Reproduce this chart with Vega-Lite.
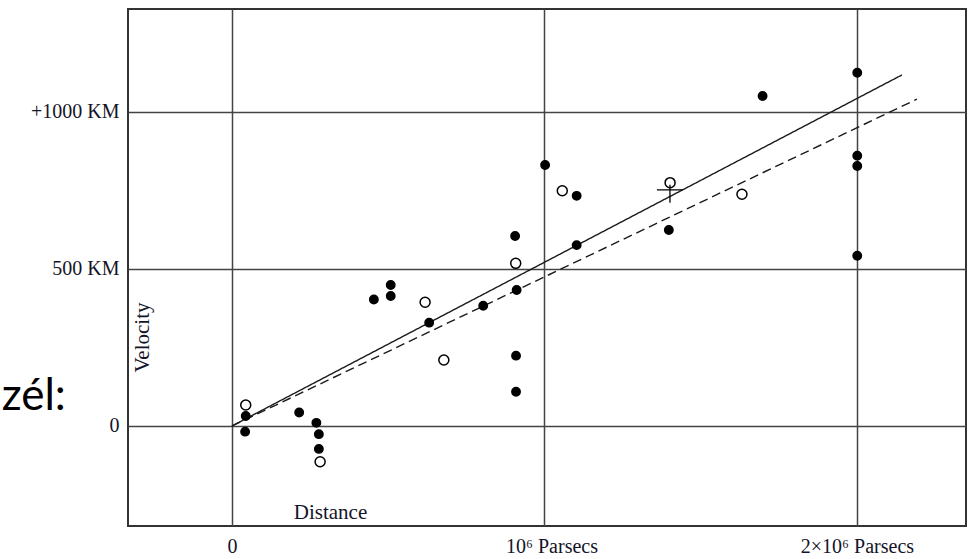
{
  "$schema": "https://vega.github.io/schema/vega-lite/v6.json",
  "width": 838,
  "height": 517,
  "autosize": {"type": "none"},
  "padding": {"left": 128, "top": 9, "right": 3, "bottom": 33},
  "background": "white",
  "config": {
    "view": {"stroke": "#333333", "strokeWidth": 2},
    "axis": {
      "labelFont": "Liberation Serif",
      "titleFont": "Liberation Serif",
      "labelColor": "#141428",
      "titleColor": "#141428",
      "titleFontWeight": "normal",
      "labelFontSize": 20,
      "titleFontSize": 21,
      "grid": true,
      "gridColor": "#444444",
      "gridWidth": 1.5,
      "gridOpacity": 1,
      "domain": false,
      "ticks": false,
      "labelOverlap": false,
      "labelBound": false,
      "labelFlush": false
    }
  },
  "datasets": {
    "nebulae": [
      {"d": 0.044, "v": 32, "kind": "individual"},
      {"d": 0.042, "v": -18, "kind": "individual"},
      {"d": 0.215, "v": 43, "kind": "individual"},
      {"d": 0.270, "v": 10, "kind": "individual"},
      {"d": 0.278, "v": -26, "kind": "individual"},
      {"d": 0.278, "v": -73, "kind": "individual"},
      {"d": 0.454, "v": 403, "kind": "individual"},
      {"d": 0.508, "v": 449, "kind": "individual"},
      {"d": 0.508, "v": 414, "kind": "individual"},
      {"d": 0.631, "v": 329, "kind": "individual"},
      {"d": 0.804, "v": 383, "kind": "individual"},
      {"d": 0.911, "v": 433, "kind": "individual"},
      {"d": 0.909, "v": 224, "kind": "individual"},
      {"d": 0.909, "v": 109, "kind": "individual"},
      {"d": 0.906, "v": 605, "kind": "individual"},
      {"d": 1.002, "v": 831, "kind": "individual"},
      {"d": 1.103, "v": 733, "kind": "individual"},
      {"d": 1.103, "v": 576, "kind": "individual"},
      {"d": 1.398, "v": 624, "kind": "individual"},
      {"d": 1.698, "v": 1051, "kind": "individual"},
      {"d": 2.001, "v": 1125, "kind": "individual"},
      {"d": 2.001, "v": 861, "kind": "individual"},
      {"d": 2.001, "v": 828, "kind": "individual"},
      {"d": 2.001, "v": 542, "kind": "individual"},
      {"d": 0.044, "v": 67, "kind": "group"},
      {"d": 0.282, "v": -114, "kind": "group"},
      {"d": 0.618, "v": 394, "kind": "group"},
      {"d": 0.678, "v": 210, "kind": "group"},
      {"d": 0.908, "v": 518, "kind": "group"},
      {"d": 1.057, "v": 749, "kind": "group"},
      {"d": 1.402, "v": 775, "kind": "group"},
      {"d": 1.632, "v": 738, "kind": "group"}
    ],
    "fits": [
      {"d": 0, "v": 0, "fit": "individual"},
      {"d": 2.144, "v": 1118, "fit": "individual"},
      {"d": 0, "v": 0, "fit": "group"},
      {"d": 2.192, "v": 1041, "fit": "group"}
    ],
    "mean": [
      {"d": 1.4016, "v": 752}
    ],
    "slide": [
      {"t": "zél:"}
    ]
  },
  "layer": [
    {
      "data": {"name": "fits"},
      "mark": {"type": "line", "color": "#1a1a1a", "strokeWidth": 1.4},
      "encoding": {
        "x": {
          "field": "d",
          "type": "quantitative",
          "scale": {"domain": [-0.3328, 2.349], "nice": false, "zero": false},
          "axis": {
            "values": [0, 1, 2],
            "labelExpr": "datum.value == 0 ? '0' : datum.value == 1 ? '10⁶ Parsecs' : '2×10⁶ Parsecs'",
            "labelPadding": 10,
            "labelOffset": {"condition": {"test": "datum.value == 1", "value": 7}, "value": 0},
            "title": "Distance",
            "titleX": 202,
            "titleY": -14,
            "titleBaseline": "middle",
            "titleAlign": "center"
          }
        },
        "y": {
          "field": "v",
          "type": "quantitative",
          "scale": {"domain": [-318.5, 1328], "nice": false, "zero": false},
          "axis": {
            "values": [0, 500, 1000],
            "labelExpr": "datum.value == 1000 ? '+1000 KM' : datum.value == 500 ? '500 KM' : '0'",
            "labelPadding": 9,
            "title": "Velocity",
            "titleX": 14,
            "titleY": 328,
            "titleAngle": -90,
            "titleBaseline": "middle",
            "titleAlign": "center"
          }
        },
        "detail": {"field": "fit"},
        "strokeDash": {
          "field": "fit",
          "type": "nominal",
          "scale": {"domain": ["individual", "group"], "range": [[1, 0], [9, 5]]},
          "legend": null
        }
      }
    },
    {
      "data": {"name": "nebulae"},
      "mark": {"type": "point", "shape": "circle", "filled": false, "stroke": "black", "strokeWidth": 1.5, "opacity": 1},
      "encoding": {
        "x": {"field": "d", "type": "quantitative"},
        "y": {"field": "v", "type": "quantitative"},
        "fill": {
          "field": "kind",
          "type": "nominal",
          "scale": {"domain": ["individual", "group"], "range": ["black", "white"]},
          "legend": null
        },
        "size": {
          "field": "kind",
          "type": "nominal",
          "scale": {"domain": ["individual", "group"], "range": [70, 100]},
          "legend": null
        }
      }
    },
    {
      "data": {"name": "mean"},
      "mark": {"type": "point", "shape": "M-1,0H1M0,-0.4V1", "filled": false, "stroke": "black", "strokeWidth": 1.3, "size": 676, "opacity": 1},
      "encoding": {
        "x": {"field": "d", "type": "quantitative"},
        "y": {"field": "v", "type": "quantitative"}
      }
    },
    {
      "data": {"name": "slide"},
      "mark": {"type": "text", "font": "Lato", "fontSize": 44, "align": "left", "baseline": "alphabetic", "fill": "black", "clip": false},
      "encoding": {
        "x": {"datum": -0.737, "type": "quantitative"},
        "y": {"datum": 51, "type": "quantitative"},
        "text": {"field": "t", "type": "nominal"}
      }
    }
  ]
}
